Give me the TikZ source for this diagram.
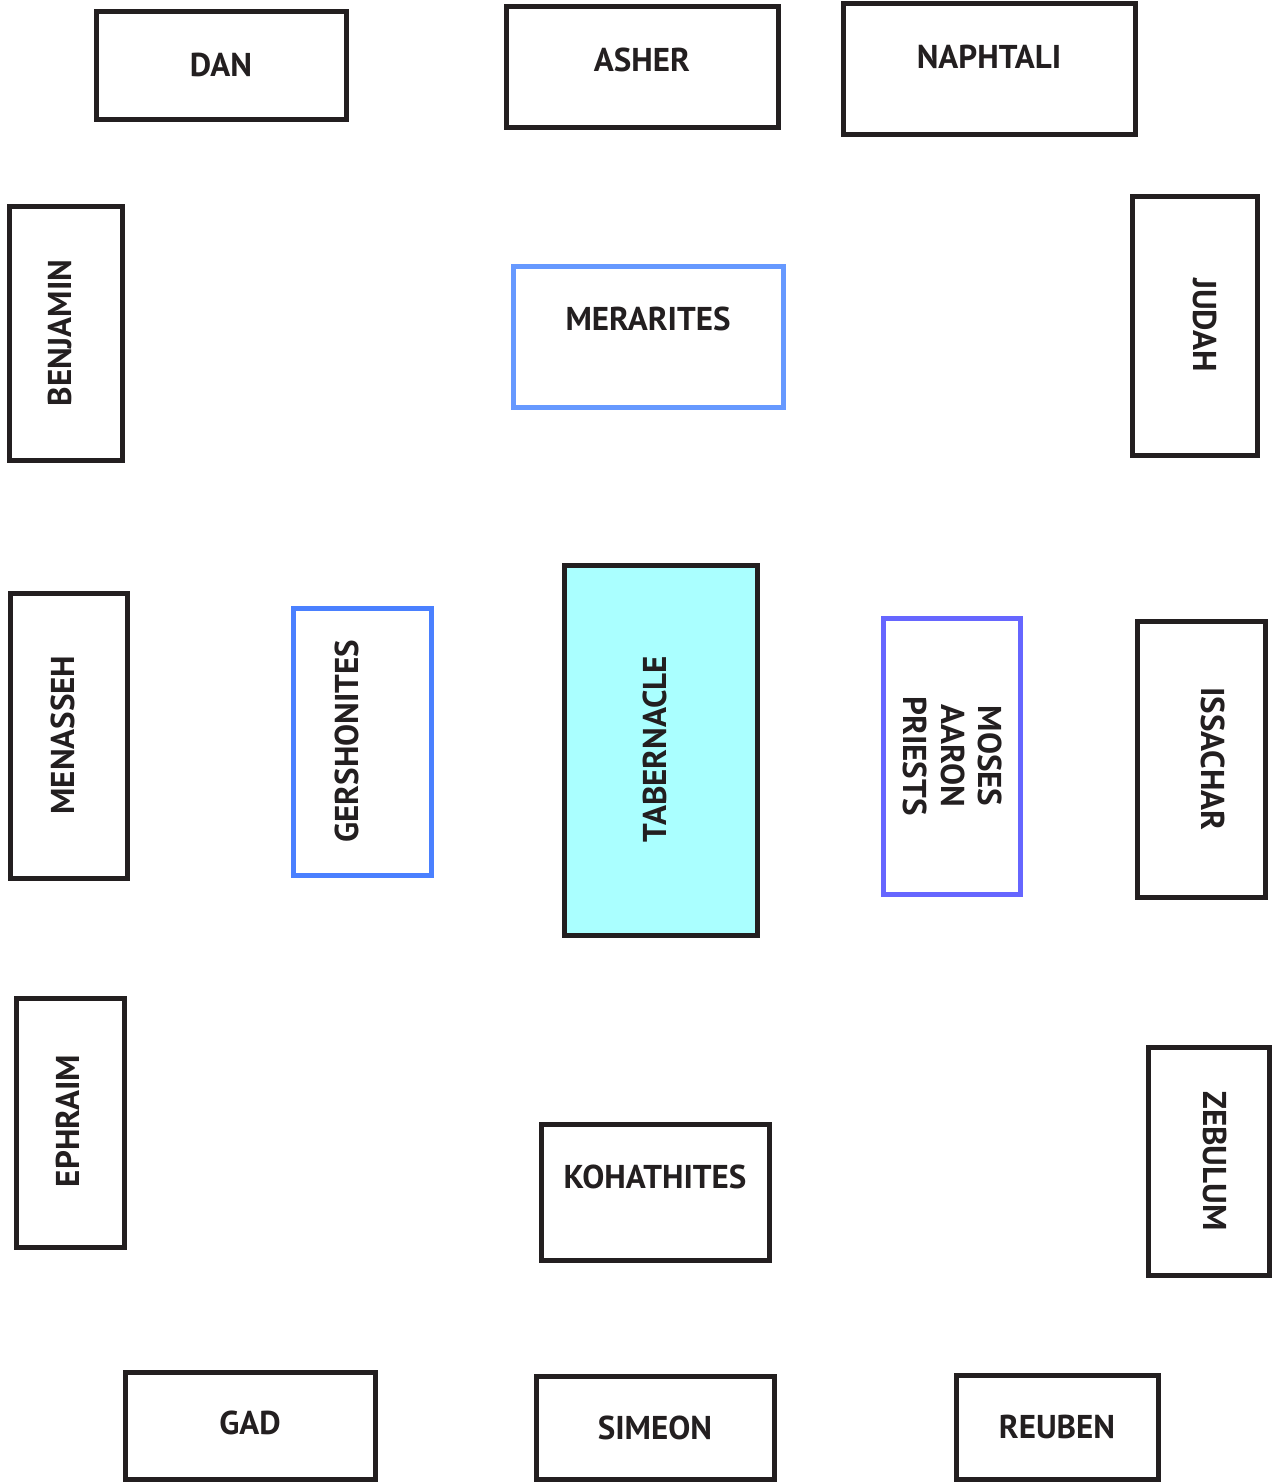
\documentclass[tikz,border=0pt]{standalone}
\usepackage{fontspec}
\setmainfont{PT Sans}
\definecolor{ink}{HTML}{231F20}
\definecolor{merblue}{HTML}{6699FF}
\definecolor{gerblue}{HTML}{4A80FF}
\definecolor{mosblue}{HTML}{6666FF}
\definecolor{tabfill}{HTML}{AAFFFF}
\begin{document}
\begin{tikzpicture}[x=1pt,y=-1pt,
  box/.style={draw=ink, line width=5pt, inner sep=0pt, fill=white},
  lbl/.style={text=ink, inner sep=0pt, font=\fontsize{33}{37.5}\selectfont\bfseries},
  up/.style={lbl, rotate=90},
  down/.style={lbl, rotate=-90}]
\useasboundingbox (0,0) rectangle (1273,1482);
% boxes
\node[box, minimum width=250pt, minimum height=108pt] (dan) at (221,66) {};
\node[box, minimum width=272pt, minimum height=121pt] (asher) at (642,67.5) {};
\node[box, minimum width=292pt, minimum height=131pt] (naphtali) at (989,69.5) {};
\node[box, minimum width=113pt, minimum height=254pt] (benjamin) at (65.5,333) {};
\node[box, draw=merblue, minimum width=270pt, minimum height=141pt] (merarites) at (648,336.5) {};
\node[box, minimum width=125pt, minimum height=258pt] (judah) at (1194.5,326) {};
\node[box, minimum width=117pt, minimum height=285pt] (menasseh) at (68.5,735.5) {};
\node[box, draw=gerblue, minimum width=138pt, minimum height=267pt] (gershonites) at (362,741.5) {};
\node[box, fill=tabfill, minimum width=193pt, minimum height=370pt] (tabernacle) at (660.5,750) {};
\node[box, draw=mosblue, minimum width=137pt, minimum height=276pt] (moses) at (951.5,756) {};
\node[box, minimum width=128pt, minimum height=276pt] (issachar) at (1201,759) {};
\node[box, minimum width=108pt, minimum height=249pt] (ephraim) at (70,1122.5) {};
\node[box, minimum width=228pt, minimum height=136pt] (kohathites) at (655,1192) {};
\node[box, minimum width=121pt, minimum height=228pt] (zebulum) at (1208.5,1161) {};
\node[box, minimum width=250pt, minimum height=107pt] (gad) at (250,1425.5) {};
\node[box, minimum width=238pt, minimum height=103pt] (simeon) at (655,1427.5) {};
\node[box, minimum width=202pt, minimum height=104pt] (reuben) at (1057,1427) {};
% labels
\node[lbl] (tdan) at (221,65) {DAN};
\node[lbl] (tasher) at (642,60) {ASHER};
\node[lbl] (tnaphtali) at (989,57) {NAPHTALI};
\node[up] (tbenjamin) at (60,333) {BENJAMIN};
\node[lbl] (tmerarites) at (648,319) {MERARITES};
\node[down] (tjudah) at (1205,325) {JUDAH};
\node[up] (tmenasseh) at (63,735) {MENASSEH};
\node[up] (tgershonites) at (347,741) {GERSHONITES};
\node[up] (ttabernacle) at (655,749) {TABERNACLE};
\node[down, align=center] (tmoses) at (953,756) {MOSES\\AARON\\PRIESTS};
\node[down] (tissachar) at (1213,759) {ISSACHAR};
\node[up] (tephraim) at (68,1121) {EPHRAIM};
\node[lbl] (tkohathites) at (655,1177) {KOHATHITES};
\node[down] (tzebulum) at (1215,1161) {ZEBULUM};
\node[lbl] (tgad) at (250,1423) {GAD};
\node[lbl] (tsimeon) at (655,1428) {SIMEON};
\node[lbl] (treuben) at (1057,1427) {REUBEN};
\end{tikzpicture}
\end{document}
